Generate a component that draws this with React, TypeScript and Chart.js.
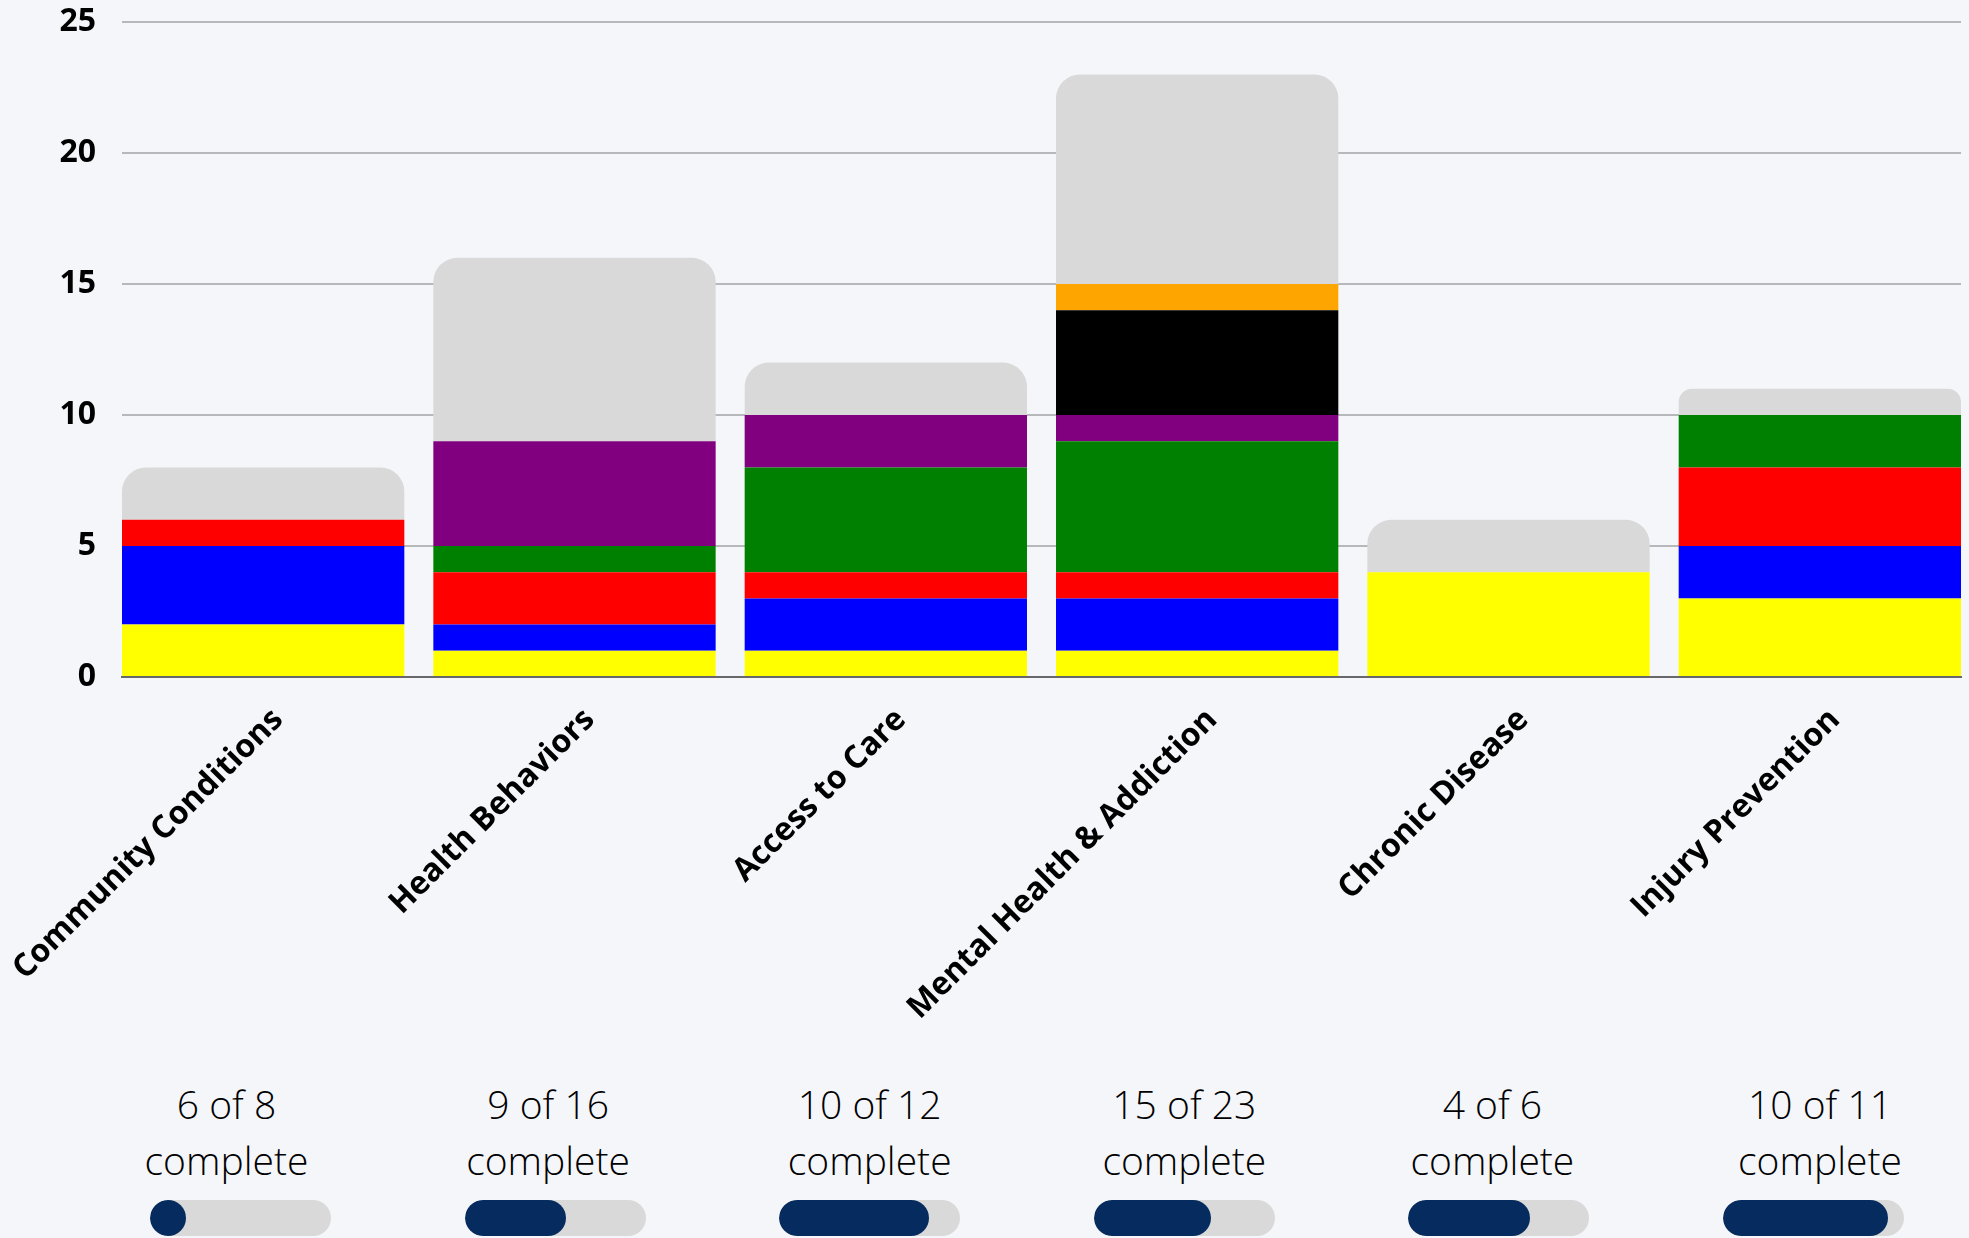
import React, { useEffect, useRef } from "react";
import { Chart, registerables } from "chart.js";

Chart.register(...registerables);

const categories = [
  "Community Conditions",
  "Health Behaviors",
  "Access to Care",
  "Mental Health & Addiction",
  "Chronic Disease",
  "Injury Prevention",
];

// stacked segments, bottom to top
const yellowVals = [2, 1, 1, 1, 4, 3];
const blueVals = [3, 1, 2, 2, 0, 2];
const redVals = [1, 2, 1, 1, 0, 3];
const greenVals = [0, 1, 4, 5, 0, 2];
const purpleVals = [0, 4, 2, 1, 0, 0];
const blackVals = [0, 0, 0, 4, 0, 0];
const orangeVals = [0, 0, 0, 1, 0, 0];
const remainingVals = [2, 7, 2, 8, 2, 1];

const yTicks = [0, 5, 10, 15, 20, 25];

const completeCounts = [6, 9, 10, 15, 4, 10];
const totalCounts = [8, 16, 12, 23, 6, 11];
// fill of each progress pill
const progressFill = [0, 0.56, 0.83, 0.65, 0.67, 0.91];

// layout-only: horizontal nudge of each caption relative to its pill (px)
const captionShift = [-14, -7, 0, 0, -6.5, 6.5];

const BG = "#f5f6fa";
const NAVY = "#062c5f";
const FONT = "'Open Sans', sans-serif";
const BAR_FRACTION = 0.9068;

export default function App() {
  const ref = useRef<HTMLCanvasElement>(null);

  useEffect(() => {
    document.documentElement.style.overflow = "hidden";
    document.body.style.margin = "0";
    document.body.style.background = BG;

    const mk = (label: string, vals: number[], color: string, rounded = false) => ({
      label,
      data: vals.map((v, i) => ({ x: i, y: v })),
      backgroundColor: color,
      borderWidth: 0,
      barPercentage: BAR_FRACTION,
      categoryPercentage: 1,
      borderRadius: rounded
        ? { topLeft: 24, topRight: 24, bottomLeft: 0, bottomRight: 0 }
        : 0,
    });

    const chart = new Chart(ref.current!, {
      type: "bar",
      data: {
        datasets: [
          mk("Yellow", yellowVals, "#ffff00"),
          mk("Blue", blueVals, "#0000ff"),
          mk("Red", redVals, "#ff0000"),
          mk("Green", greenVals, "#008000"),
          mk("Purple", purpleVals, "#800080"),
          mk("Black", blackVals, "#000000"),
          mk("Orange", orangeVals, "#ffa500"),
          mk("Remaining", remainingVals, "#d9d9d9", true),
        ] as any,
      },
      options: {
        animation: false,
        responsive: true,
        maintainAspectRatio: false,
        layout: { padding: { top: 22, right: 8, left: 0, bottom: 0 } },
        plugins: { legend: { display: false }, tooltip: { enabled: false } },
        scales: {
          x: {
            type: "linear",
            stacked: true,
            bounds: "data",
            offset: false,
            min: -BAR_FRACTION / 2,
            max: categories.length - 1 + BAR_FRACTION / 2,
            grid: { display: false, drawTicks: false },
            border: { display: true, color: "#68686c", width: 2 },
            afterBuildTicks: (s: any) => {
              s.ticks = categories.map((_, i) => ({ value: i }));
            },
            ticks: {
              color: "#000",
              font: { family: FONT, size: 32, weight: "bold" },
              minRotation: 45,
              maxRotation: 45,
              padding: 24,
              labelOffset: 15,
              autoSkip: false,
              callback: (v: any) => categories[Math.round(v)] ?? "",
            },
            afterFit: (s: any) => {
              s.height = 373;
              s.paddingLeft = 0;
              s.paddingRight = 0;
            },
          },
          y: {
            stacked: true,
            min: yTicks[0],
            max: yTicks[yTicks.length - 1],
            grid: { color: "#b7b8bc", lineWidth: 2, drawTicks: false },
            border: { display: false },
            ticks: {
              stepSize: 5,
              color: "#000",
              font: { family: FONT, size: 32, weight: "bold" },
              padding: 26,
            },
            afterFit: (s: any) => {
              s.width = 122;
              s.paddingTop = 0;
              s.paddingBottom = 0;
            },
          },
        },
      } as any,
    });
    return () => chart.destroy();
  }, []);

  return (
    <div
      style={{
        position: "relative",
        width: 1969,
        height: 1238,
        background: BG,
        overflow: "hidden",
        fontFamily: FONT,
      }}
    >
      <div style={{ position: "absolute", left: 0, top: 0, width: 1969, height: 1050 }}>
        <canvas ref={ref} />
      </div>
      {categories.map((c, i) => (
        <div
          key={c}
          style={{
            position: "absolute",
            left: 83.2 + i * 314.6,
            top: 1076,
            width: 314.6,
            textAlign: "center",
          }}
        >
          <div
            style={{
              fontSize: 39,
              fontWeight: 300,
              lineHeight: "56px",
              color: "#000",
              transform: `translateX(${captionShift[i]}px)`,
            }}
          >
            {completeCounts[i]} of {totalCounts[i]}
            <br />
            complete
          </div>
          <div
            style={{
              margin: "12px auto 0",
              width: 181,
              height: 36,
              borderRadius: 18,
              background: "#d9d9d9",
              overflow: "hidden",
            }}
          >
            <div
              style={{
                width: Math.max(36, progressFill[i] * 181),
                height: 36,
                borderRadius: 18,
                background: NAVY,
              }}
            />
          </div>
        </div>
      ))}
    </div>
  );
}
